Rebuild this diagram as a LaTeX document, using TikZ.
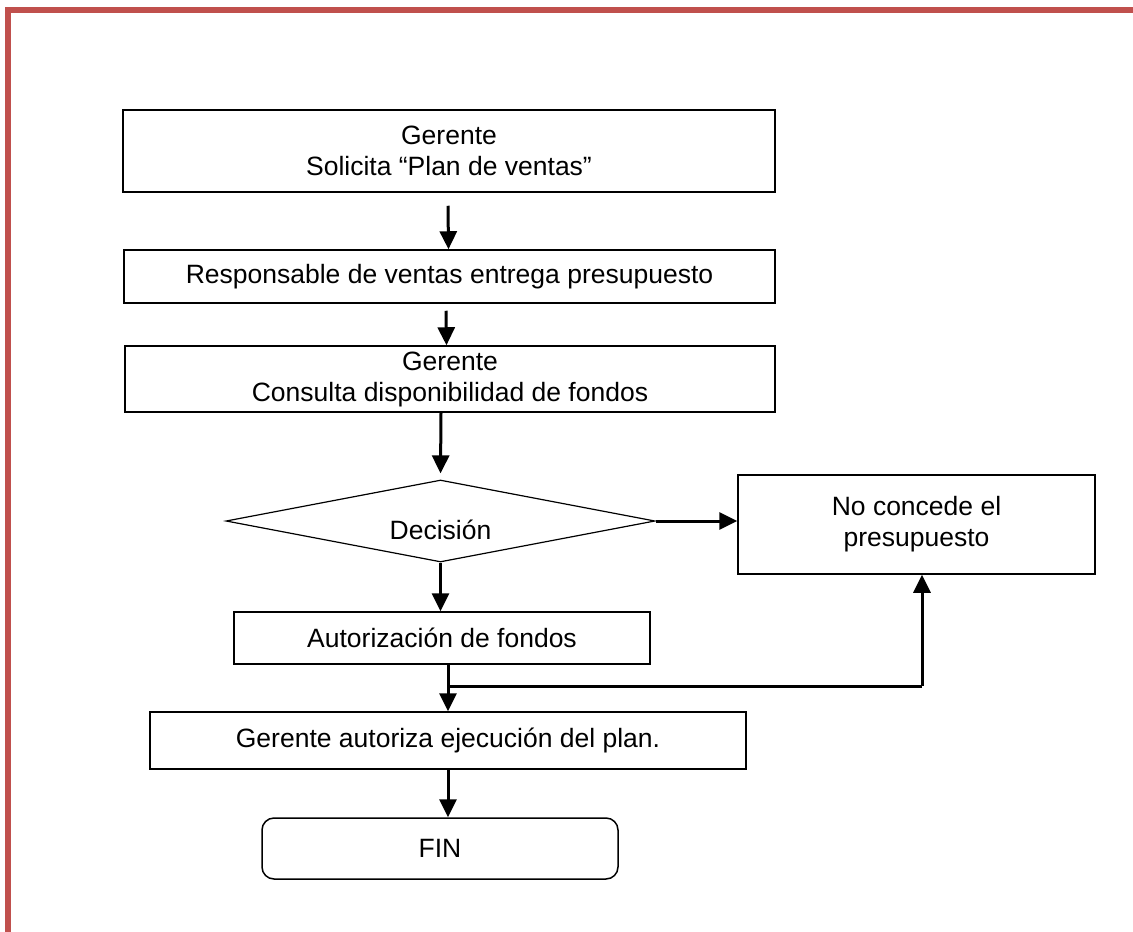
\documentclass[tikz,border=0pt]{standalone}
\usepackage{fontspec}
\setmainfont{Liberation Sans}
\usetikzlibrary{arrows.meta,shapes.geometric,calc}
\definecolor{frame}{HTML}{C0504D}
\begin{document}
\begin{tikzpicture}[x=1pt,y=-1pt,
  every node/.style={font=\fontsize{26.5}{31}\selectfont, text=black},
  stepbox/.style={draw=black, line width=1.5pt, rectangle, inner sep=0pt, align=center},
  endbox/.style={draw=black, line width=1.5pt, rectangle, rounded corners=12pt, inner sep=0pt, align=center},
  decbox/.style={draw=black, line width=1.2pt, diamond, inner sep=0pt, aspect=5},
  arr/.style={draw=black, line width=3pt, -{Triangle[length=18pt,width=17pt]}},
  ln/.style={draw=black, line width=3pt}
]
\useasboundingbox (0,0) rectangle (1133,932);
% page frame
\draw[frame, line width=6pt] (8,960) -- (8,10) -- (1160,10);

\node[stepbox, minimum width=652pt, minimum height=82pt] (b1) at (449,151) {Gerente\\Solicita “Plan de ventas”};
\node[stepbox, minimum width=651pt, minimum height=53pt] (b2) at (449.5,276.5) {Responsable de ventas entrega presupuesto};
\node[stepbox, minimum width=650pt, minimum height=66pt] (b3) at (450,379) {Gerente\\Consulta disponibilidad de fondos};
\node[decbox, minimum width=429pt, minimum height=82pt] (dec) at (440.5,521) {};
\node[inner sep=0pt] (dect) at (440.5,530) {Decisión};
\node[stepbox, minimum width=357pt, minimum height=99pt] (noc) at (916.5,524.5) {No concede el\\presupuesto};
\node[stepbox, minimum width=416pt, minimum height=52pt] (aut) at (442,638) {Autorización de fondos};
\node[stepbox, minimum width=596pt, minimum height=57pt] (ga) at (448,740.5) {Gerente autoriza ejecución del plan.};
\node[endbox, minimum width=356pt, minimum height=61pt] (fin) at (440,848.5) {FIN};

\coordinate (j) at (448,686);
\coordinate (jr) at (922,686);

\draw[arr] ($(b1.south)+(-1,13)$) -- ($(b2.north)+(-1,0)$);
\draw[arr] ($(b2.south)+(-3.5,7)$) -- ($(b3.north)+(-3.5,0)$);
\draw[arr] ($(b3.south)+(-9,0)$) -- ($(dec.north)+(0,-6)$);
\draw[arr] (dec.east) -- (dec.east -| noc.west);
\draw[arr] (dec.south) -- (dec.south |- aut.north);
\draw[ln] (aut.south -| j) -- (j);
\draw[arr] (j) -- (j |- ga.north);
\draw[ln] (j) -- (jr);
\draw[arr] (jr) -- (jr |- noc.south);
\draw[arr] (ga.south) -- (ga.south |- fin.north);
\end{tikzpicture}
\end{document}
